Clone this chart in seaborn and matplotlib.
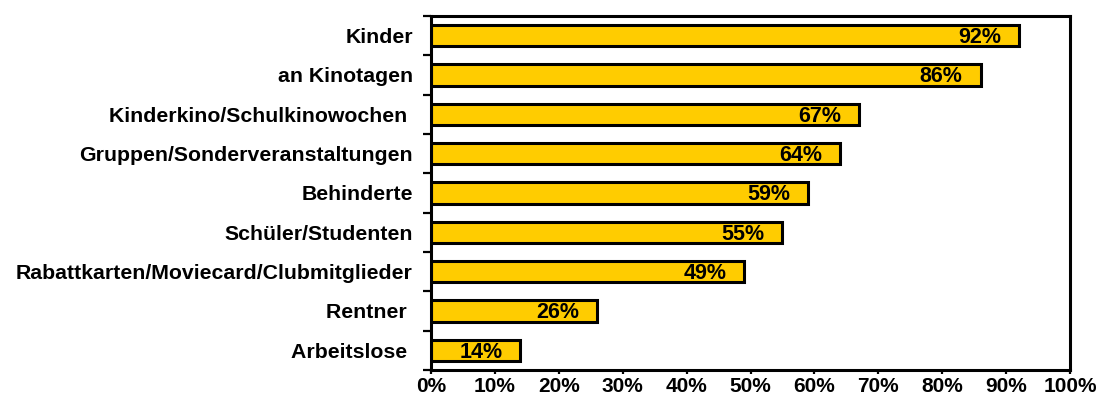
import matplotlib
matplotlib.use('Agg')
import matplotlib.pyplot as plt
import seaborn as sns
import numpy as np
import pandas as pd
from matplotlib.ticker import FixedLocator, MultipleLocator, PercentFormatter

categories = ["Kinder", "an Kinotagen", "Kinderkino/Schulkinowochen ",
              "Gruppen/Sonderveranstaltungen", "Behinderte", "Schüler/Studenten",
              "Rabattkarten/Moviecard/Clubmitglieder", "Rentner ", "Arbeitslose "]
values = [92, 86, 67, 64, 59, 55, 49, 26, 14]

df = pd.DataFrame({"gruppe": categories, "anteil": values})

sns.set_style("white")
plt.rcParams['font.family'] = ['Liberation Sans', 'DejaVu Sans']
plt.rcParams['text.color'] = 'black'
plt.rcParams['xtick.color'] = 'black'
plt.rcParams['ytick.color'] = 'black'

fig = plt.figure(figsize=(10.97, 4.03), dpi=100)
ax = fig.add_axes([431 / 1097, 33 / 403, 639 / 1097, 354 / 403])

sns.barplot(data=df, x="anteil", y="gruppe", orient="h", color="#FFCC00",
            edgecolor="black", linewidth=2.2, width=0.55, saturation=1, ax=ax)

for i, v in enumerate(values):
    ax.text(v - 2.8, i + 0.05, f"{v}%", ha="right", va="center",
            fontsize=15.5, fontweight="bold", color="black")

ax.set_xlim(0, 100)
ax.set_ylim(len(categories) - 0.5, -0.5)
ax.xaxis.set_major_locator(MultipleLocator(10))
ax.xaxis.set_major_formatter(PercentFormatter(decimals=0))
ax.yaxis.set_minor_locator(FixedLocator(np.arange(-0.5, len(categories), 1)))

ax.tick_params(axis="y", which="major", length=0, pad=13, labelsize=15.3)
ax.tick_params(axis="y", which="minor", left=True, length=6, width=1.6, color="black")
ax.tick_params(axis="x", which="major", bottom=True, length=3, width=1.6,
               color="black", labelsize=15, pad=2)
for lab in ax.get_yticklabels() + ax.get_xticklabels():
    lab.set_fontweight("bold")
    lab.set_color("black")

for spine in ax.spines.values():
    spine.set_visible(True)
    spine.set_linewidth(2.2)
    spine.set_color("black")

ax.set_xlabel("")
ax.set_ylabel("")
ax.grid(False)

fig.savefig("out.png", dpi=100, facecolor="white")
